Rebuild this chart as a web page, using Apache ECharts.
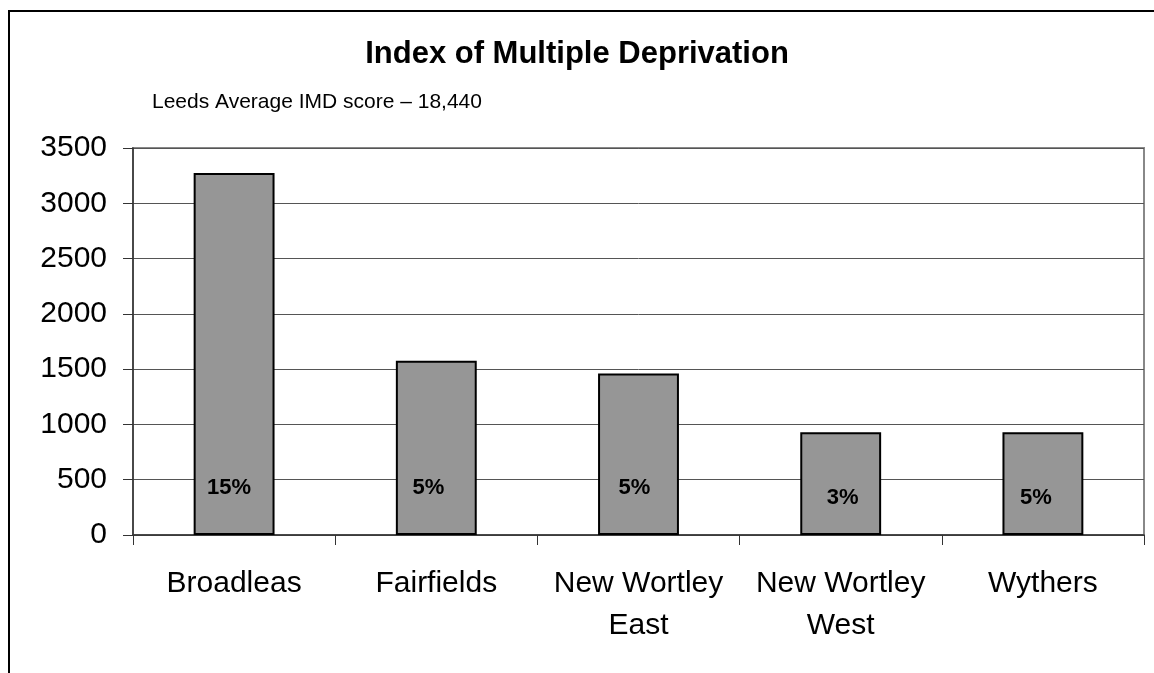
<!DOCTYPE html>
<html>
<head>
<meta charset="utf-8">
<script src="https://cdn.jsdelivr.net/npm/echarts@6/dist/echarts.min.js"></script>
<style>html,body{margin:0;padding:0;background:#fff;}#c{width:1154px;height:673px;}</style>
</head>
<body>
<div id="c"></div>
<script>
var categories = ['Broadleas', 'Fairfields', 'New Wortley\nEast', 'New Wortley\nWest', 'Wythers'];
var imdValues = [3275, 1575, 1460, 930, 930];
var pctLabels = ['15%', '5%', '5%', '3%', '5%'];
var yTicks = [0, 500, 1000, 1500, 2000, 2500, 3000, 3500];

var FONT = '"Liberation Sans", Arial, sans-serif';
var chart = echarts.init(document.getElementById('c'));

function labelStyle(i) {
  // hand-placed text boxes in the original: small nudges per bar
  var dx = [-5, -8, -4, 2, -7][i];
  return {
    show: true, position: 'insideBottom', distance: i >= 3 ? 26 : 36,
    offset: [dx, 0],
    formatter: pctLabels[i],
    fontFamily: FONT, fontSize: 22, fontWeight: 'bold', color: '#000'
  };
}

chart.setOption({
  animation: false,
  backgroundColor: '#fff',
  title: [{
    text: 'Index of Multiple Deprivation',
    left: 'center', top: 34,
    textStyle: {fontFamily: FONT, fontSize: 31, fontWeight: 'bold', color: '#000'}
  }, {
    text: 'Leeds Average IMD score \u2013 18,440',
    left: 147, top: 87,
    textStyle: {fontFamily: FONT, fontSize: 21, fontWeight: 'normal', color: '#000'}
  }],
  graphic: [{
    type: 'rect', shape: {x: 9, y: 11, width: 1200, height: 700},
    style: {fill: 'none', stroke: '#000', lineWidth: 2}, z: 100
  }],
  grid: {left: 133, right: 10, top: 148, bottom: 138, show: true, borderColor: '#888', borderWidth: 2, containLabel: false},
  xAxis: {
    type: 'category', data: categories,
    axisLine: {lineStyle: {color: '#333', width: 1.5}},
    axisTick: {show: true, length: 10, lineStyle: {color: '#333'}},
    axisLabel: {fontFamily: FONT, fontSize: 30, color: '#000', margin: 28, lineHeight: 42, interval: 0}
  },
  yAxis: {
    type: 'value', min: yTicks[0], max: yTicks[yTicks.length - 1], interval: yTicks[1] - yTicks[0],
    axisLine: {show: true, lineStyle: {color: '#333', width: 1.5}},
    axisTick: {show: true, length: 10, lineStyle: {color: '#333'}},
    splitLine: {lineStyle: {color: '#555', width: 1}},
    axisLabel: {fontFamily: FONT, fontSize: 30, color: '#000', margin: 26, formatter: function (v) { return String(v); }}
  },
  series: [{
    type: 'bar', barWidth: '40%',
    itemStyle: {color: '#969696', borderColor: '#000', borderWidth: 2},
    data: imdValues.map(function (v, i) {
      return {value: v, label: labelStyle(i)};
    })
  }]
});
</script>
</body>
</html>
